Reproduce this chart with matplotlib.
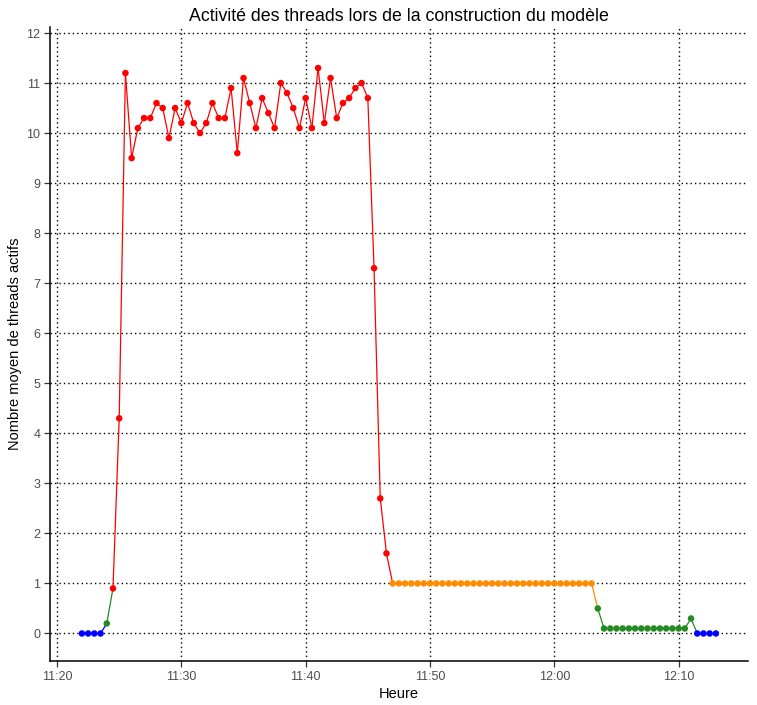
import matplotlib
matplotlib.use("Agg")
import matplotlib.pyplot as plt
import pandas as pd

plt.rcParams['font.family'] = ['Liberation Sans', 'DejaVu Sans']

start_time = "2020-01-01 11:22:00"
step = "30s"

blue_start = [0, 0, 0, 0]
ramp_up = [0.2]
busy = [0.9, 4.3, 11.2, 9.5, 10.1, 10.3, 10.3, 10.6, 10.5, 9.9, 10.5, 10.2, 10.6,
        10.2, 10.0, 10.2, 10.6, 10.3, 10.3, 10.9, 9.6, 11.1, 10.6, 10.1, 10.7,
        10.4, 10.1, 11.0, 10.8, 10.5, 10.1, 10.7, 10.1, 11.3, 10.2, 11.1, 10.3,
        10.6, 10.7, 10.9, 11.0, 10.7, 7.3, 2.7, 1.6]
single = [1.0] * 33
tail = [0.5] + [0.1] * 14 + [0.3]
blue_end = [0, 0, 0, 0]

values = blue_start + ramp_up + busy + single + tail + blue_end
times = pd.date_range(start_time, periods=len(values), freq=step)

x_ticks = ["11:20", "11:30", "11:40", "11:50", "12:00", "12:10"]
y_ticks = list(range(0, 13))


def colour(v):
    if v == 0:
        return "#0000FF"
    if v == 1:
        return "#FF8C00"
    if v <= 0.5:
        return "#228B22"
    return "#FF0000"


cols = [colour(v) for v in values]

fig = plt.figure(figsize=(7.57, 7.05), dpi=100)
ax = fig.add_axes([50 / 757, 1 - 661 / 705, (748 - 50) / 757, (661 - 27) / 705])

for i in range(len(values) - 1):
    ax.plot(times[i:i + 2], values[i:i + 2], color=cols[i], lw=0.9, zorder=3)
ax.scatter(times, values, c=cols, s=22, zorder=4, linewidths=0)

ax.set_xlim(pd.Timestamp("2020-01-01 11:19:26"), pd.Timestamp("2020-01-01 12:15:35"))
ax.set_ylim(-0.55, 12.12)

tick_times = [pd.Timestamp("2020-01-01 " + t) for t in x_ticks]
ax.set_xticks(tick_times)
ax.set_xticklabels(x_ticks)
ax.set_yticks(y_ticks)
ax.set_yticklabels([str(t) for t in y_ticks])

ax.grid(True, color="black", linestyle=(0, (1, 2.2)), linewidth=1.0)
ax.set_axisbelow(True)
for s in ["top", "right"]:
    ax.spines[s].set_visible(False)
for s in ["left", "bottom"]:
    ax.spines[s].set_color("black")
    ax.spines[s].set_linewidth(1.1)
ax.tick_params(axis="both", colors="#333333", labelcolor="#4D4D4D", labelsize=9,
               length=4, width=0.9, pad=3)

ax.set_xlabel("Heure", fontsize=10.5, color="black", labelpad=3)
ax.set_ylabel("Nombre moyen de threads actifs", fontsize=10.5, color="black", labelpad=3)
fig.suptitle("Activité des threads lors de la construction du modèle", fontsize=12.8,
             x=(50 + 748) / 2 / 757, y=1 - 8 / 705, va="top")

fig.savefig("out.png", dpi=100, facecolor="white")
